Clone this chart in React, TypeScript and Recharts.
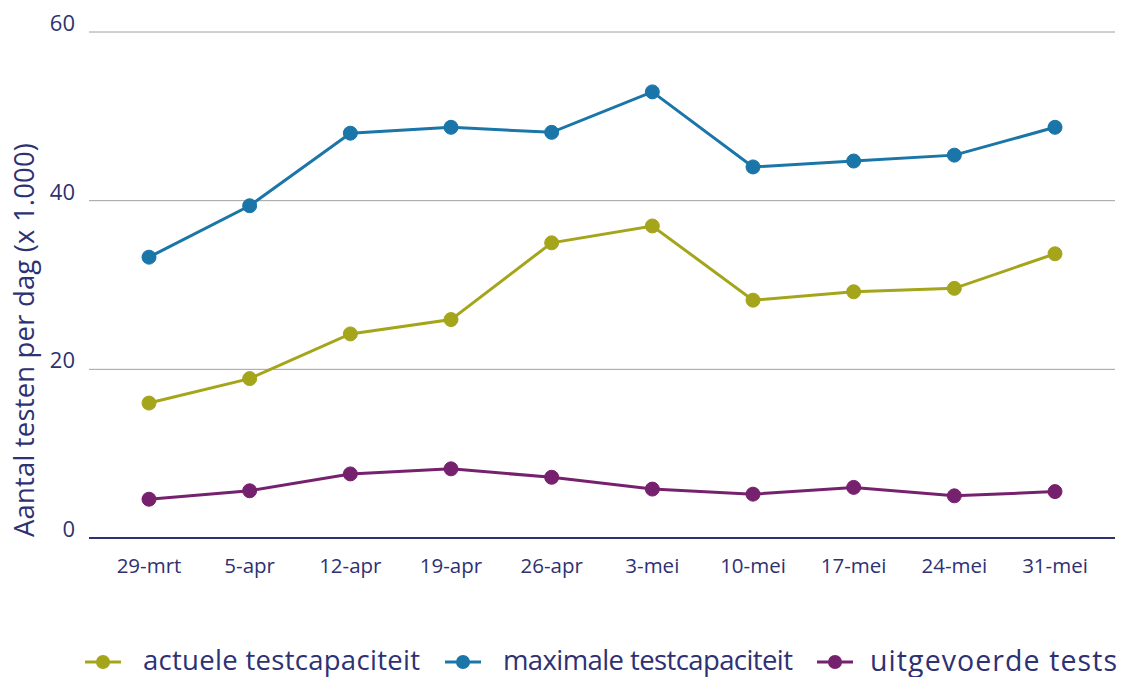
import React from 'react';
import { LineChart, Line, XAxis, YAxis, CartesianGrid, Label } from 'recharts';

const weeks = ['29-mrt', '5-apr', '12-apr', '19-apr', '26-apr', '3-mei', '10-mei', '17-mei', '24-mei', '31-mei'];
const actueel = [16.0, 18.9, 24.2, 25.9, 35.0, 37.0, 28.2, 29.2, 29.6, 33.7];
const maximaal = [33.3, 39.4, 48.0, 48.7, 48.1, 52.9, 44.0, 44.7, 45.4, 48.7];
const uitgevoerd = [4.6, 5.6, 7.6, 8.2, 7.2, 5.8, 5.2, 6.0, 5.0, 5.5];
const yTicks = [0, 20, 40, 60];

const NAVY = '#2e3172';
const OLIVE = '#a5a51c';
const BLUE = '#1a75a8';
const PURPLE = '#76216e';
const FONT = '"Open Sans", "Noto Sans", sans-serif';

const data = weeks.map((w, i) => ({
  week: w,
  actueel: actueel[i],
  maximaal: maximaal[i],
  uitgevoerd: uitgevoerd[i],
}));

// legend entries: marker left x, text left x, text width
const legendItems = [
  { label: 'actuele testcapaciteit', color: OLIVE, left: 85, textX: 143, textW: 277, size: 27.5 },
  { label: 'maximale testcapaciteit', color: BLUE, left: 445, textX: 503, textW: 290, size: 27.5 },
  { label: 'uitgevoerde tests', color: PURPLE, left: 817, textX: 870, textW: 247, size: 28.5 },
];

const YTick = (props: any) => {
  const { x, y, payload } = props;
  return (
    <text x={x} y={y - 7} textAnchor="end" dominantBaseline="middle" fill={NAVY} fontSize={22} fontFamily={FONT}>
      {payload.value}
    </text>
  );
};

const XTick = (props: any) => {
  const { x, y, payload } = props;
  return (
    <text x={x} y={y + 24} textAnchor="middle" dominantBaseline="middle" fill={NAVY} fontSize={20.5} fontFamily={FONT}>
      {payload.value}
    </text>
  );
};

const YLabel = () => (
  <text
    x={27}
    y={340}
    transform="rotate(-90, 27, 340)"
    textAnchor="middle"
    dominantBaseline="middle"
    fill={NAVY}
    fontSize={27.5}
    fontFamily={FONT}
    textLength={394}
    lengthAdjust="spacing"
  >
    Aantal testen per dag (x 1.000)
  </text>
);

export default function App() {
  return (
    <div style={{ position: 'absolute', left: 0, top: 0, width: 1121, height: 677, background: '#fff' }}>
      <LineChart width={1121} height={677} data={data} margin={{ top: 32, right: 6, bottom: 99, left: 0 }}>
        <CartesianGrid vertical={false} stroke="#a0a0a0" strokeWidth={1} />
        <XAxis
          dataKey="week"
          axisLine={{ stroke: NAVY, strokeWidth: 2 }}
          tickLine={false}
          padding={{ left: 60, right: 60 }}
          tick={<XTick />}
          tickMargin={0}
          interval={0}
          height={40}
        />
        <YAxis
          domain={[0, 60]}
          ticks={yTicks}
          axisLine={false}
          tickLine={false}
          width={89}
          tick={<YTick />}
          tickMargin={8}
        >
          <Label content={<YLabel />} />
        </YAxis>
        <Line dataKey="actueel" stroke={OLIVE} strokeWidth={3} dot={{ r: 7, fill: OLIVE, stroke: OLIVE, strokeWidth: 1 }} isAnimationActive={false} />
        <Line dataKey="maximaal" stroke={BLUE} strokeWidth={3} dot={{ r: 7, fill: BLUE, stroke: BLUE, strokeWidth: 1 }} isAnimationActive={false} />
        <Line dataKey="uitgevoerd" stroke={PURPLE} strokeWidth={3} dot={{ r: 7, fill: PURPLE, stroke: PURPLE, strokeWidth: 1 }} isAnimationActive={false} />
      </LineChart>
      <svg width={1121} height={60} style={{ position: 'absolute', left: 0, top: 632 }}>
        {legendItems.map((it, i) => (
          <g key={i}>
            <line x1={it.left} y1={30} x2={it.left + 36} y2={30} stroke={it.color} strokeWidth={3} />
            <circle cx={it.left + 18} cy={30} r={7} fill={it.color} />
            <text
              x={it.textX}
              y={31}
              dominantBaseline="middle"
              fill={NAVY}
              fontSize={it.size}
              fontFamily={FONT}
              textLength={it.textW}
              lengthAdjust="spacing"
            >
              {it.label}
            </text>
          </g>
        ))}
      </svg>
    </div>
  );
}
